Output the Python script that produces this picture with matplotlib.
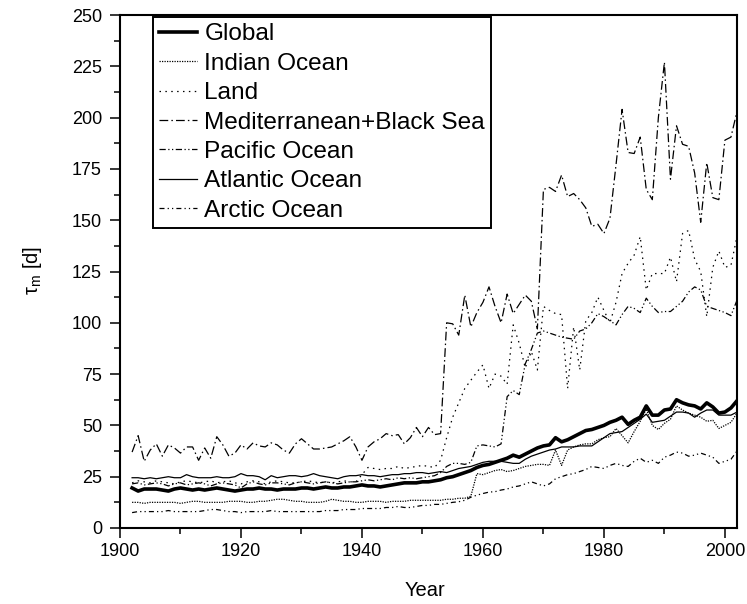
import matplotlib
matplotlib.use("Agg")
import matplotlib.pyplot as plt
from matplotlib.ticker import MultipleLocator
import numpy as np

plt.rcParams['font.family'] = ['Liberation Sans', 'DejaVu Sans']
plt.rcParams['mathtext.fontset'] = 'custom'
plt.rcParams['mathtext.rm'] = 'Liberation Sans'
plt.rcParams['mathtext.it'] = 'Liberation Sans:italic'

years = list(range(1902, 2003))

global_ = [19.5, 18, 19, 19, 19, 18.5, 18, 19, 19.5, 19,
           18.5, 19, 18.5, 19, 19.5, 19, 18.5, 18, 18.5, 19,
           19, 19.5, 19, 19, 18.5, 19, 19, 19, 19.5, 19.5,
           19, 19.5, 20, 19.5, 19.5, 20, 20, 20.5, 21, 20.5,
           20.5, 20, 20.5, 21, 21.5, 22, 22, 22, 22.5, 22.5,
           23, 23.5, 24.5, 25, 26, 27, 28, 29.5, 30.5, 31,
           32, 33, 34, 35.5, 34.5, 36, 37.5, 39, 40, 40.5,
           44, 42, 43, 44.5, 46, 47.5, 48, 49, 50, 51.5,
           52.5, 54, 50.5, 52.5, 54, 59.5, 55, 55, 57.5, 58,
           62.5, 61, 60, 59.5, 58, 61, 59, 56, 56.5, 58.5,
           62]

indian = [12.5, 12.5, 12, 12.5, 12.5, 12.5, 12.5, 12.5, 12, 12.5,
          13, 13, 12.5, 12.5, 12.5, 12.5, 13, 13, 13, 12.5,
          12.5, 13, 13, 13.5, 14, 14, 13.5, 13, 13, 12.5,
          12.5, 12.5, 13, 14, 13.5, 13, 13, 12.5, 12.5, 13,
          13, 13, 12.5, 13, 13, 13, 13.5, 13.5, 13.5, 13.5,
          13.5, 13.5, 14, 14, 14.5, 14.5, 15.5, 26.5, 26, 27,
          28, 28.5, 27.5, 28, 29, 30, 30.5, 31, 31, 30.5,
          38, 30.5, 38, 39.5, 40.5, 41, 41, 43, 44, 44.5,
          48.5, 45, 41.5, 47, 52, 58, 50, 48, 51, 53,
          59.5, 57.5, 56, 55, 54, 52, 52.5, 48.5, 50, 51.5,
          56]

land = [22, 23, 22.5, 22, 23, 22.5, 22, 21.5, 22.5, 23,
        22.5, 22, 22.5, 23, 22, 22.5, 23, 22, 21.5, 22.5,
        23, 22.5, 21.5, 22.5, 23, 22.5, 22, 22, 22.5, 23,
        22.5, 22, 22.5, 22, 22.5, 23, 22.5, 22.5, 26, 29.5,
        29, 28.5, 29, 29, 30, 29, 29.5, 30, 30.5, 30,
        29.5, 33, 44, 54, 61, 68, 72, 76, 79.5, 68,
        75, 74, 70, 99, 90, 78, 86, 77, 108, 106,
        104.5, 104, 68, 98, 77, 101, 105, 112.5, 106, 100,
        110, 124, 129, 133, 142, 116, 124, 124, 124, 132,
        120, 143.5, 145, 131, 125, 103, 127, 135, 127, 128,
        142]

mediterranean = [37, 45, 32.5, 38, 41, 35, 40.5, 39, 36.5, 39.5,
                 39.5, 33, 39, 34, 44.5, 40.5, 35, 36.5, 40.5, 38.5,
                 41.5, 40, 39.5, 41.5, 40.5, 38, 36.5, 41, 43.5, 41,
                 38.5, 38.5, 39, 39.5, 41, 42.5, 44.5, 39.5, 33, 39.5,
                 42, 43.5, 46, 45, 45.5, 41, 44, 49, 44.5, 49,
                 45.5, 46, 100, 99.5, 94, 113.5, 98, 105, 110, 117.5,
                 108, 100, 114, 104.5, 109, 113.5, 110.5, 97, 165, 166,
                 164, 172, 161.5, 163, 160, 156, 147, 148, 143.5, 151,
                 177, 204, 183, 182.5, 190.5, 165, 160, 200, 227, 170,
                 196, 187, 186, 173, 149, 178, 161, 160, 189, 190.5,
                 203]

pacific = [21.5, 22, 21, 21.5, 22, 21.5, 20.5, 21.5, 22, 21,
           21.5, 22, 21.5, 20.5, 21.5, 22, 21.5, 21, 19.5, 21.5,
           22.5, 21.5, 21, 22, 22, 21.5, 21, 22, 22.5, 22,
           21.5, 22, 22.5, 22, 21.5, 22, 22.5, 22.5, 23, 23.5,
           23, 23.5, 24, 23.5, 24.5, 24, 24.5, 24, 24.5, 25,
           25.5, 27, 30, 31.5, 31.5, 31, 32, 40, 40.5, 40,
           39.5, 41, 64, 67, 65, 80, 87, 95, 96, 95,
           94, 93, 92.5, 92, 96, 97, 100, 104.5, 103, 101,
           99, 104, 108, 107, 105, 112, 108, 105, 105.5, 105.5,
           108, 110.5, 115, 117.5, 116, 108, 107, 106, 105, 103.5,
           111]

atlantic = [24.5, 24.5, 24, 24.5, 24, 24.5, 25, 24.5, 24.5, 26,
            25, 24.5, 24.5, 24.5, 25, 24.5, 24.5, 25, 26.5, 25.5,
            25.5, 25, 23.5, 25.5, 24.5, 25, 25.5, 25.5, 25, 25.5,
            26.5, 25.5, 25, 24.5, 24, 25, 25.5, 25.5, 26, 25.5,
            25.5, 25, 25.5, 26, 26, 26.5, 26.5, 27, 27, 26.5,
            27, 27.5, 27, 28, 29, 29.5, 30, 31, 32, 32.5,
            32.5, 32.5, 32, 31.5, 31.5, 33.5, 35, 36, 37, 38,
            38.5, 39.5, 39.5, 39.5, 40, 40, 40, 42, 44, 46,
            46.5, 47, 49, 51, 53, 55.5, 51.5, 52, 52.5, 54.5,
            56.5, 56.5, 56, 54, 56, 57.5, 57.5, 55, 55, 55,
            56.5]

arctic = [7.5, 8, 8, 8, 8, 8, 8.5, 8, 8, 8,
          8, 8, 8.5, 9, 9, 8.5, 8, 8, 7.5, 8,
          8, 8, 8, 8.5, 8, 8, 8, 8, 8, 8,
          8, 8, 8.5, 8.5, 8.5, 9, 9, 9, 9.5, 9.5,
          9.5, 9.5, 10, 10, 10.5, 10, 10, 10.5, 11, 11,
          11.5, 11.5, 12, 12.5, 12.8, 13.5, 15, 16, 16.8, 17.5,
          17.7, 18.5, 19, 20, 20.5, 21.5, 22.5, 21.5, 20.5, 21.5,
          24, 25, 26, 26.5, 27.5, 28.5, 30, 29.5, 29, 30.5,
          31.5, 30.5, 30, 32.5, 34, 32, 33, 31.5, 34.5, 35.5,
          37, 36.5, 35, 35.5, 36.5, 35.5, 34.5, 31.5, 32.5, 33.5,
          37.5]

labels = ["Global", "Indian Ocean", "Land", "Mediterranean+Black Sea",
          "Pacific Ocean", "Atlantic Ocean", "Arctic Ocean"]

fig = plt.figure(figsize=(7.47, 6.04), dpi=100)
ax = fig.add_axes([120/747, 1-528/604, 617/747, 513/604])

thin = 0.9
ax.plot(years, global_, color='black', lw=2.6, label=labels[0], solid_joinstyle='round')
ax.plot(years, indian, color='black', lw=thin, ls=(0, (1, 1)), label=labels[1])
ax.plot(years, land, color='black', lw=thin, ls=(0, (1.2, 3.5)), label=labels[2])
ax.plot(years, mediterranean, color='black', lw=thin, ls=(0, (7, 2.5, 1.2, 2.5)), label=labels[3])
ax.plot(years, pacific, color='black', lw=thin, ls=(0, (5, 2, 1, 2, 1, 2)), label=labels[4])
ax.plot(years, atlantic, color='black', lw=thin, label=labels[5])
ax.plot(years, arctic, color='black', lw=thin, ls=(0, (4, 2.5, 1, 2.5, 1, 2.5)), label=labels[6])

ax.set_xlim(1900, 2002)
ax.set_ylim(0, 250)
ax.xaxis.set_major_locator(MultipleLocator(20))
ax.xaxis.set_minor_locator(MultipleLocator(10))
ax.yaxis.set_major_locator(MultipleLocator(25))
ax.yaxis.set_minor_locator(MultipleLocator(12.5))
ax.tick_params(which='major', direction='out', length=7, width=1.1, labelsize=13, pad=4)
ax.tick_params(which='minor', direction='out', length=4, width=1.1)
ax.tick_params(axis='y', which='major', pad=6)
for sp in ax.spines.values():
    sp.set_linewidth(1.5)

fig.text(425/747, 1-591/604, 'Year', ha='center', va='center', fontsize=14.5)
fig.text(33/747, 1-270/604, r'τ$_{\mathrm{m}}$ [d]', rotation=90, ha='center', va='center', fontsize=14.5)

leg = ax.legend(loc='upper left', bbox_to_anchor=(33/617, 0.996), borderaxespad=0,
                fontsize=17.6, frameon=True, fancybox=False, framealpha=1,
                edgecolor='black', handlelength=1.55, handletextpad=0.3,
                labelspacing=0.3, borderpad=0.25)
leg.get_frame().set_linewidth(1.4)

fig.savefig('out.png', dpi=100)
